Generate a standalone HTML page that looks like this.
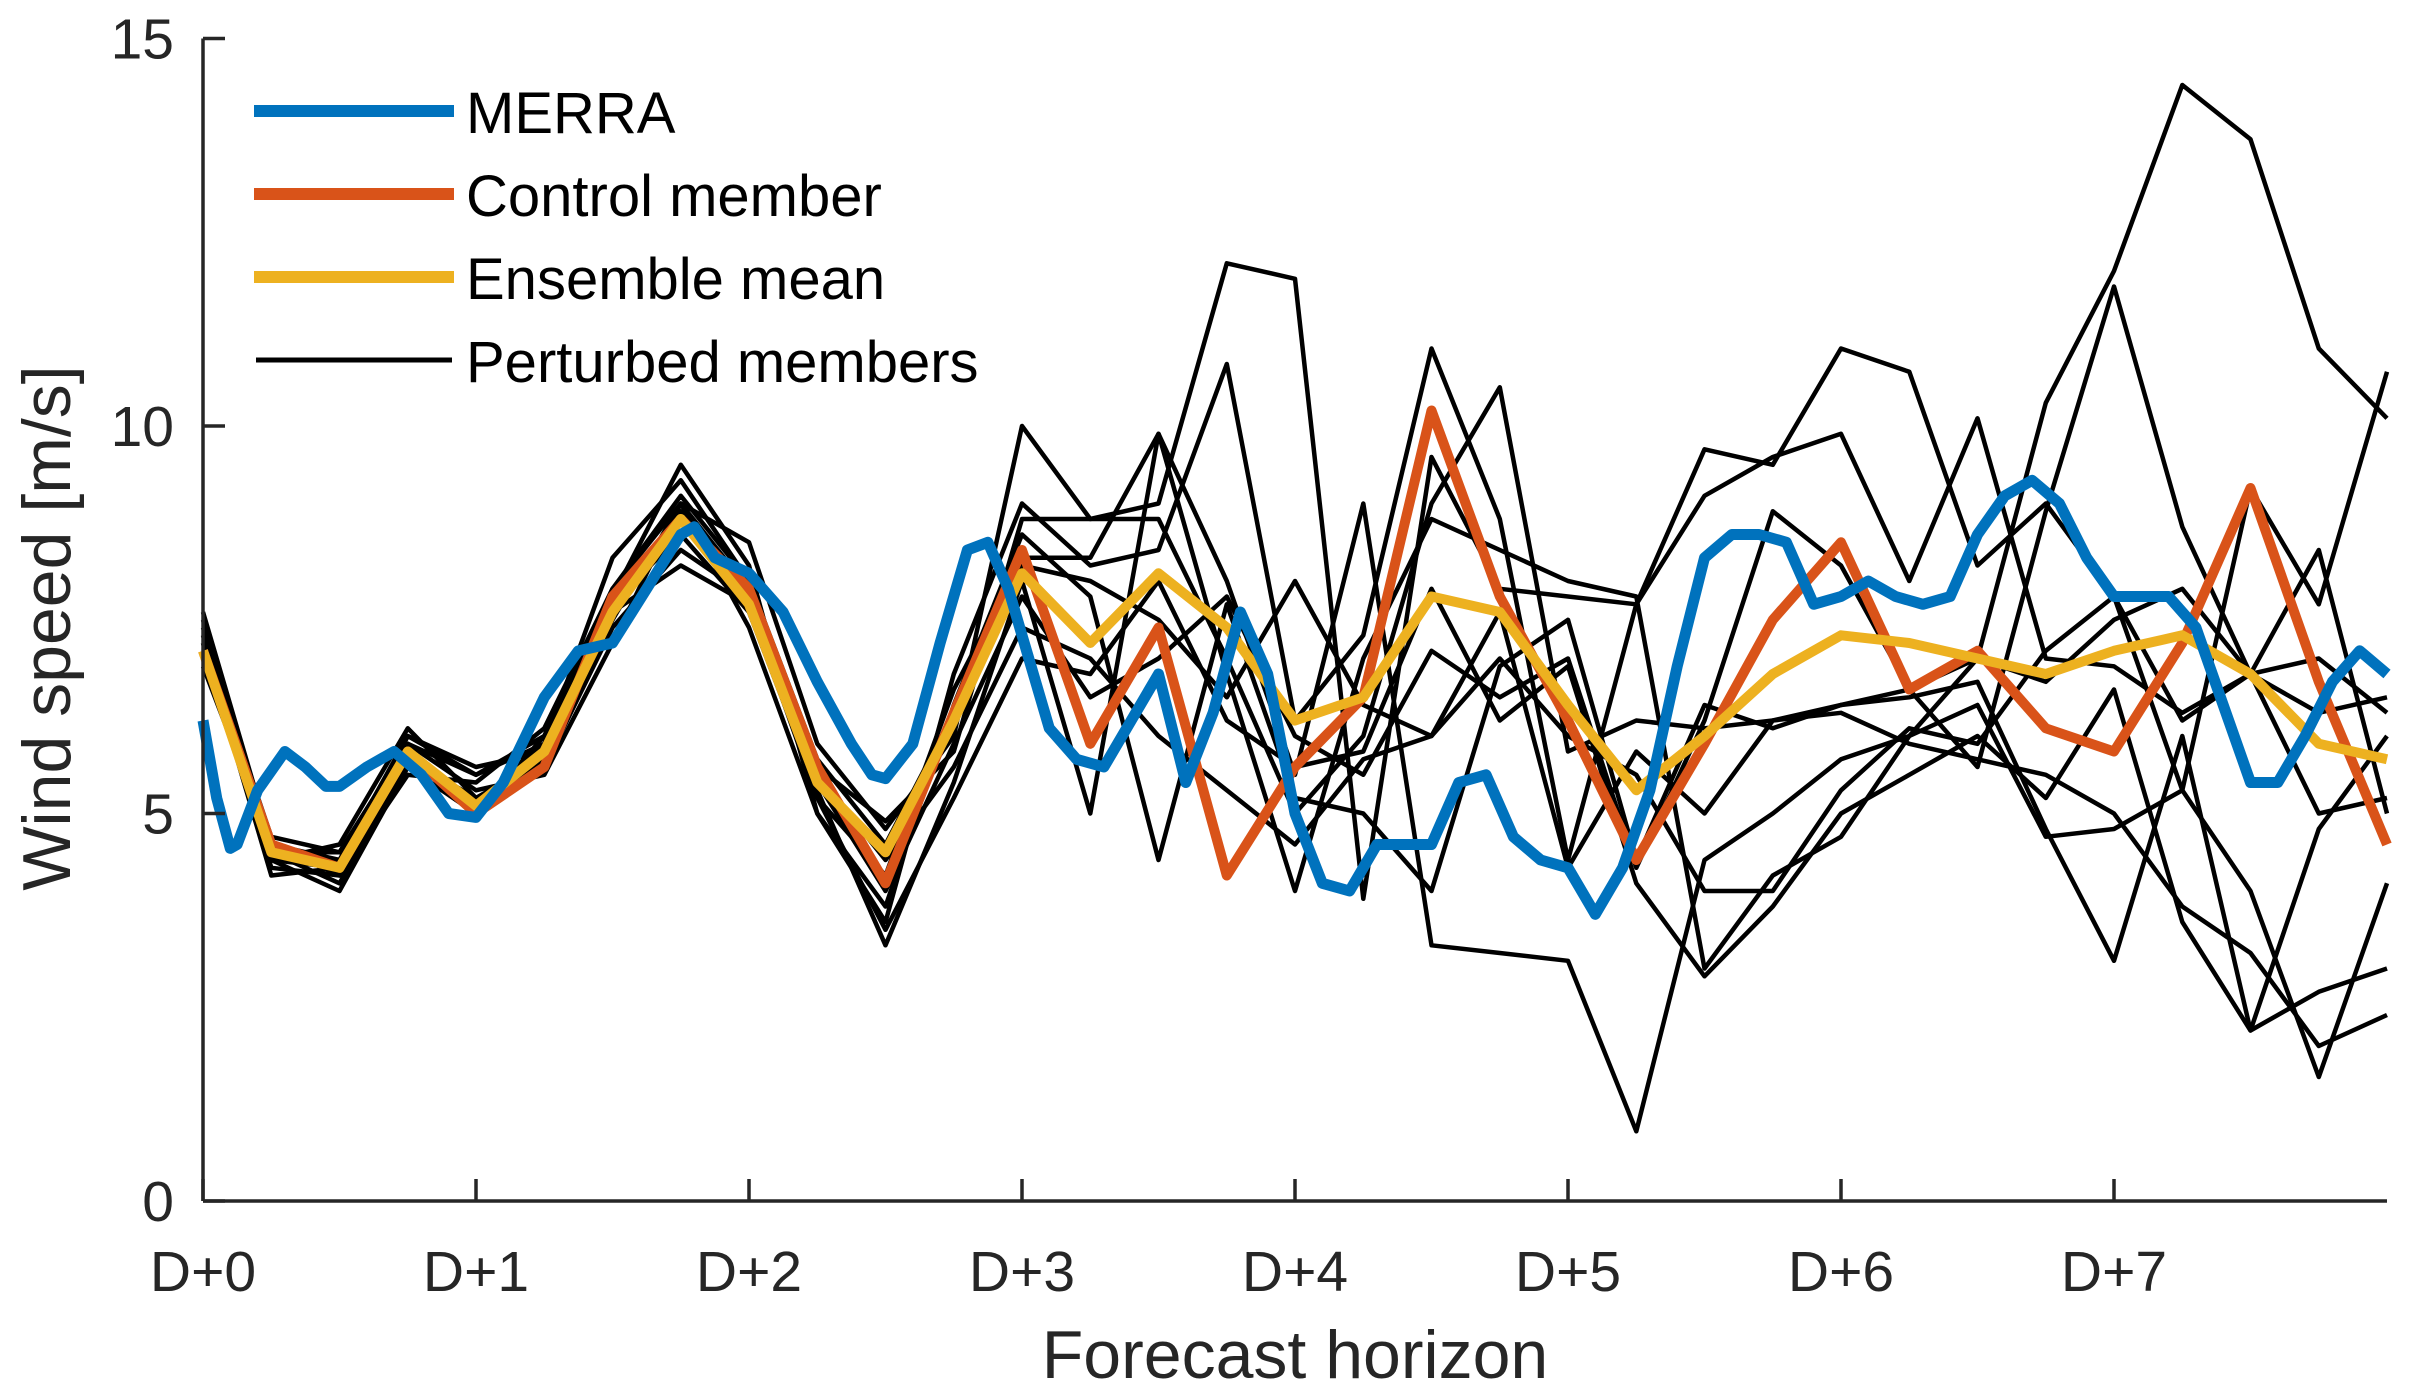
<!DOCTYPE html>
<html><head><meta charset="utf-8"><style>
html,body{margin:0;padding:0;background:#fff;}
svg{display:block;font-family:"Liberation Sans",sans-serif;}
</style></head><body>
<svg id="chart" width="2415" height="1397" viewBox="0 0 2415 1397" xmlns="http://www.w3.org/2000/svg">
<g id="members"></g>
<g id="main"></g>
<g id="axes"></g>
<g id="legend">
  <line x1="254" y1="111" x2="454" y2="111" stroke="#0072BD" stroke-width="12"/>
  <text x="466" y="133" font-size="58">MERRA</text>
  <line x1="254" y1="194" x2="454" y2="194" stroke="#D95319" stroke-width="12"/>
  <text x="466" y="216" font-size="58">Control member</text>
  <line x1="254" y1="277" x2="454" y2="277" stroke="#EDB120" stroke-width="12"/>
  <text x="466" y="299" font-size="58">Ensemble mean</text>
  <line x1="256" y1="360" x2="452" y2="360" stroke="#000" stroke-width="5"/>
  <text x="466" y="382" font-size="58">Perturbed members</text>
</g>
</svg>
<script>
const xTickLabels = ["D+0","D+1","D+2","D+3","D+4","D+5","D+6","D+7"];
const yTicks = [0,5,10,15];
const stepDays = [0,0.25,0.5,0.75,1,1.25,1.5,1.75,2,2.25,2.5,2.75,3,3.25,3.5,3.75,4,4.25,4.5,4.75,5,5.25,5.5,5.75,6,6.25,6.5,6.75,7,7.25,7.5,7.75,8];
const ensMean = [7.1,4.5,4.3,5.8,5.1,5.8,7.6,8.8,7.7,5.4,4.5,6.2,8.1,7.2,8.1,7.4,6.2,6.5,7.8,7.6,6.4,5.3,6.0,6.8,7.3,7.2,7.0,6.8,7.1,7.3,6.8,5.9,5.7];
const control = [7.1,4.6,4.3,5.8,5.0,5.6,7.8,8.8,7.9,5.6,4.1,6.3,8.4,5.9,7.4,4.2,5.6,6.5,10.2,7.8,6.2,4.4,5.9,7.5,8.5,6.6,7.1,6.1,5.8,7.2,9.2,6.7,4.6];
const merraDays = [0,0.05,0.1,0.125,0.2,0.3,0.375,0.45,0.5,0.6,0.7,0.8,0.9,1.0,1.1,1.25,1.375,1.5,1.625,1.75,1.8,1.875,2.0,2.125,2.25,2.375,2.45,2.5,2.6,2.7,2.8,2.875,2.95,3.0,3.1,3.2,3.3,3.4,3.5,3.6,3.7,3.8,3.9,4.0,4.1,4.2,4.3,4.4,4.5,4.6,4.7,4.8,4.9,5.0,5.1,5.2,5.3,5.4,5.5,5.6,5.7,5.8,5.9,6.0,6.1,6.2,6.3,6.4,6.5,6.6,6.7,6.8,6.9,7.0,7.1,7.2,7.3,7.4,7.5,7.6,7.7,7.8,7.9,8.0];
const merra = [6.2,5.2,4.55,4.6,5.3,5.8,5.6,5.35,5.35,5.6,5.8,5.5,5.0,4.95,5.4,6.5,7.1,7.2,7.9,8.6,8.7,8.3,8.1,7.6,6.7,5.9,5.5,5.45,5.9,7.2,8.4,8.5,7.9,7.3,6.1,5.7,5.6,6.2,6.8,5.4,6.3,7.6,6.8,5.0,4.1,4.0,4.6,4.6,4.6,5.4,5.5,4.7,4.4,4.3,3.7,4.3,5.3,6.9,8.3,8.6,8.6,8.5,7.7,7.8,8.0,7.8,7.7,7.8,8.6,9.1,9.3,9.0,8.3,7.8,7.8,7.8,7.4,6.4,5.4,5.4,6.0,6.7,7.1,6.8];
const member1 = [7.6,4.6,4.4,6.0,5.5,5.9,8.3,9.3,8.0,5.6,4.9,5.8,8.8,8.8,9.0,12.1,11.9,3.9,9.6,7.9,7.8,7.7,9.1,9.6,9.9,8.0,10.1,7.0,6.9,6.3,6.8,7.0,6.3];
const member2 = [7.3,4.3,4.2,5.7,5.2,5.7,7.5,9.0,7.9,5.2,4.2,6.6,8.3,8.3,9.9,8.0,5.5,9.0,3.3,3.2,3.1,0.9,4.4,5.0,5.7,6.0,7.0,10.3,12.0,14.4,13.7,11.0,10.1];
const member3 = [7.0,4.4,4.0,5.6,5.0,6.0,7.8,9.5,8.2,5.0,3.6,6.8,9.0,8.2,8.4,10.8,6.2,7.3,11.0,8.8,4.4,7.7,9.7,9.5,11.0,10.7,8.2,9.0,7.8,5.3,4.0,1.6,4.1];
const member4 = [7.4,4.5,4.5,5.9,5.3,5.5,7.2,9.0,8.5,5.9,4.8,6.0,10.0,8.8,8.8,7.0,5.0,6.0,9.0,10.5,5.8,6.2,6.1,6.2,6.4,6.6,5.6,8.9,11.8,8.7,6.8,8.4,5.0];
const member5 = [7.2,4.2,4.3,6.0,5.6,5.8,7.7,8.6,7.6,5.3,3.3,5.4,8.0,5.0,9.9,6.8,4.0,7.0,8.8,8.4,8.0,7.8,3.0,4.2,4.7,6.0,6.4,4.7,4.8,5.3,9.2,7.7,10.7];
const member6 = [6.9,4.6,4.2,5.5,5.4,6.1,7.9,9.0,7.4,5.0,3.8,6.4,8.6,7.8,4.4,7.7,5.2,5.0,4.0,6.9,7.5,4.4,6.4,6.1,6.4,6.5,6.7,4.8,3.1,6.0,2.2,2.7,3.0];
const member7 = [7.5,4.4,4.6,6.1,5.2,5.6,7.4,8.4,7.8,5.5,4.4,5.6,7.4,7.0,6.0,5.3,4.6,5.7,6.0,7.6,4.3,5.8,5.0,6.2,6.3,5.9,5.7,5.5,5.0,3.8,3.2,2.0,2.4];
const member8 = [7.0,4.5,4.1,5.6,5.0,5.7,7.6,8.2,7.7,5.2,3.5,5.2,7.0,6.8,8.0,6.2,5.6,5.8,7.9,6.2,6.9,4.1,2.9,3.8,5.0,5.5,6.0,5.2,6.6,3.6,2.2,4.8,6.0];
const member9 = [7.3,4.7,4.5,5.9,5.5,6.0,7.9,9.1,8.0,5.7,4.6,6.3,8.2,8.0,7.5,6.5,8.0,6.4,6.0,7.0,6.0,5.5,4.0,4.0,5.3,6.1,5.9,7.1,7.8,6.2,6.8,5.0,5.2];
const member10 = [7.2,4.4,4.3,5.8,5.1,5.9,7.6,8.9,7.6,5.4,4.0,5.9,7.8,6.5,7.0,7.8,6.0,5.5,7.1,6.5,7.0,4.3,6.2,8.9,8.2,6.6,7.0,6.7,7.5,7.9,6.8,6.3,6.5];
const members = [member1,member2,member3,member4,member5,member6,member7,member8,member9,member10];

const NS = "http://www.w3.org/2000/svg";
const X0 = 203, X8 = 2387, Y0 = 1201, Y15 = 38.5;
function xs(d){ return X0 + d*(X8-X0)/8; }
function ys(v){ return Y0 - v*(Y0-Y15)/15; }
function mk(tag, attrs, parent){
  const el = document.createElementNS(NS, tag);
  for (const k in attrs) el.setAttribute(k, attrs[k]);
  parent.appendChild(el);
  return el;
}
function pts(days, vals){ return vals.map((v,i)=>xs(days[i]).toFixed(1)+","+ys(v).toFixed(1)).join(" "); }

const gm = document.getElementById("members");
members.forEach((m,i)=>{
  const pl = mk("polyline",{points:pts(stepDays,m),fill:"none",stroke:"#000","stroke-width":4.5,"stroke-linejoin":"round"},gm);
  
  
});
const gmain = document.getElementById("main");
const pc = mk("polyline",{points:pts(stepDays,control),fill:"none",stroke:"#D95319","stroke-width":10,"stroke-linejoin":"round"},gmain);


const pmean = mk("polyline",{points:pts(stepDays,ensMean),fill:"none",stroke:"#EDB120","stroke-width":10,"stroke-linejoin":"round"},gmain);


const pm = mk("polyline",{points:pts(merraDays,merra),fill:"none",stroke:"#0072BD","stroke-width":11,"stroke-linejoin":"round"},gmain);



const ga = document.getElementById("axes");
const xa = mk("line",{x1:X0,y1:Y0,x2:X8,y2:Y0,stroke:"#262626","stroke-width":3.5},ga);


const ya = mk("line",{x1:X0,y1:Y15,x2:X0,y2:Y0,stroke:"#262626","stroke-width":3.5},ga);


xTickLabels.forEach((lab,i)=>{
  const t = mk("line",{x1:xs(i),y1:Y0,x2:xs(i),y2:Y0-22,stroke:"#262626","stroke-width":3.5},ga);
  
  
  const tx = mk("text",{x:xs(i),y:1291,"font-size":57,"text-anchor":"middle",fill:"#262626"},ga);
  tx.textContent = lab;
  
  
});
yTicks.forEach(v=>{
  const t = mk("line",{x1:X0,y1:ys(v),x2:X0+22,y2:ys(v),stroke:"#262626","stroke-width":3.5},ga);
  
  
  const tx = mk("text",{x:174,y:ys(v)+20,"font-size":57,"text-anchor":"end",fill:"#262626"},ga);
  tx.textContent = v;
  
  
});
const xl = mk("text",{x:1295,y:1378,"font-size":68,"text-anchor":"middle",fill:"#262626"},ga);
xl.textContent = "Forecast horizon";


const yl = mk("text",{x:0,y:0,"font-size":68,"text-anchor":"middle",fill:"#262626",transform:"translate(70,628) rotate(-90)"},ga);
yl.textContent = "Wind speed [m/s]";


</script>
</body></html>
